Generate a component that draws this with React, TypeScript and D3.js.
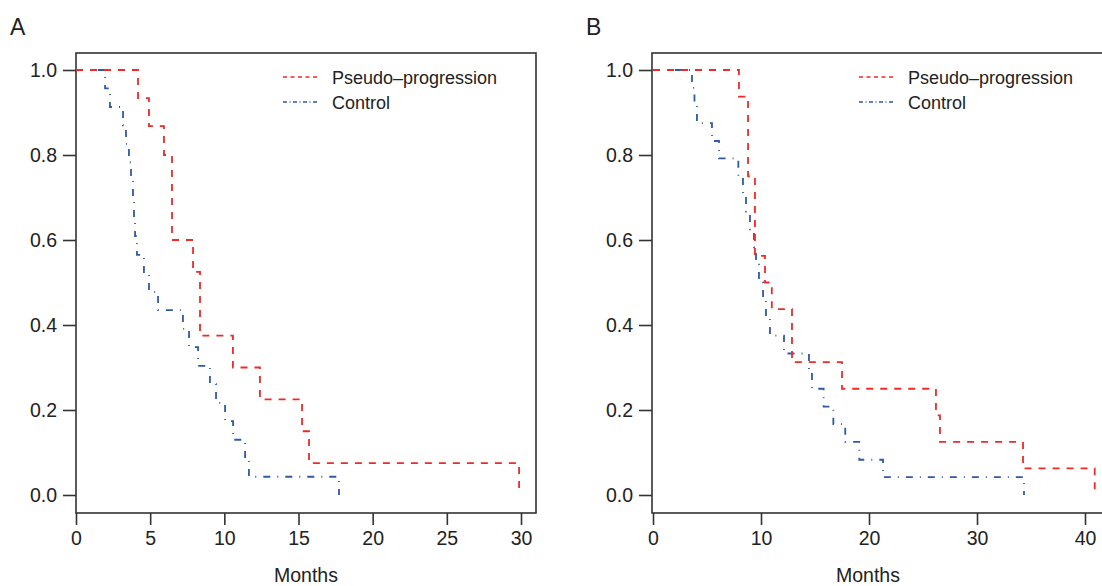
import React, { useEffect, useRef } from 'react'
import * as d3 from 'd3'

// survival curves (time in months, survival after the drop)
const redATimes = [4.18, 4.92, 5.93, 6.47, 7.89, 8.36, 10.58, 12.4, 15.24, 15.71, 29.87]
const redASurv = [0.934, 0.868, 0.8, 0.6, 0.525, 0.375, 0.3, 0.225, 0.15, 0.075, 0.0]

const blueATimes = [1.96, 2.29, 3.17, 3.37, 3.57, 3.71, 3.84, 3.91, 3.98, 4.11, 4.58, 4.92, 5.53, 7.21, 7.62, 8.23, 9.03, 9.44, 10.05, 10.59, 11.4, 11.66, 17.73]
const blueASurv = [0.957, 0.913, 0.87, 0.826, 0.783, 0.739, 0.696, 0.652, 0.609, 0.565, 0.522, 0.478, 0.435, 0.391, 0.348, 0.304, 0.261, 0.217, 0.174, 0.13, 0.087, 0.043, 0]

const redBTimes = [7.96, 8.8, 9.44, 10.37, 11.0, 12.87, 17.5, 26.2, 26.57, 34.26, 40.9]
const redBSurv = [0.9375, 0.75, 0.5625, 0.5, 0.4375, 0.3125, 0.25, 0.1875, 0.125, 0.0625, 0]

const blueBTimes = [3.61, 3.84, 4.07, 5.46, 6.11, 7.9, 8.33, 8.61, 8.98, 9.35, 9.54, 9.81, 10.19, 10.46, 10.83, 12.13, 14.44, 14.72, 15.8, 16.7, 17.8, 19.1, 21.3, 34.35]
const blueBSurv = [0.958, 0.917, 0.875, 0.833, 0.792, 0.75, 0.708, 0.667, 0.625, 0.583, 0.542, 0.5, 0.458, 0.417, 0.375, 0.333, 0.292, 0.25, 0.208, 0.167, 0.125, 0.083, 0.042, 0]

const yTicks = [0, 0.2, 0.4, 0.6, 0.8, 1.0]
const xTicksA = [0, 5, 10, 15, 20, 25, 30]
const xTicksB = [0, 10, 20, 30, 40]
const seriesNames = ['Pseudo\u2013progression', 'Control']

const RED = '#ee2a2a'
const BLUE = '#2f5aa6'
const FONT = '"Liberation Sans", Arial, Helvetica, sans-serif'

type Panel = {
  letter: string
  left: number
  right: number
  x0: number
  xRef: [number, number] // [value, pixel] used to fix the scale
  xTicks: number[]
  red: [number[], number[]]
  blue: [number[], number[]]
  monthsX: number
}

const panels: Panel[] = [
  { letter: 'A', left: 76, right: 536, x0: 76, xRef: [30, 521], xTicks: xTicksA, red: [redATimes, redASurv], blue: [blueATimes, blueASurv], monthsX: 306 },
  { letter: 'B', left: 652, right: 1112, x0: 653, xRef: [40, 1085], xTicks: xTicksB, red: [redBTimes, redBSurv], blue: [blueBTimes, blueBSurv], monthsX: 868 },
]

function App() {
  const ref = useRef<SVGSVGElement>(null)

  useEffect(() => {
    const svg = d3.select(ref.current)
    svg.selectAll('*').remove()
    const top = 53, bottom = 513

    // y: 1.0 at 70px, 0.0 at 495px
    const y = d3.scaleLinear().domain([0, 1]).range([495, 70])

    panels.forEach((p) => {
      const x = d3.scaleLinear().domain([0, p.xRef[0]]).range([p.x0, p.xRef[1]])

      const g = svg.append('g')

      // panel letter
      g.append('text')
        .attr('x', p.left - 66)
        .attr('y', 35)
        .attr('font-family', FONT)
        .attr('font-size', 23)
        .attr('fill', '#222')
        .text(p.letter)

      // box
      g.append('rect')
        .attr('x', p.left)
        .attr('y', top)
        .attr('width', p.right - p.left)
        .attr('height', bottom - top)
        .attr('fill', 'none')
        .attr('stroke', '#333')
        .attr('stroke-width', 1.6)

      // y axis
      const ya = g.append('g')
        .attr('transform', `translate(${p.left},0)`)
        .call(d3.axisLeft(y).tickValues(yTicks).tickFormat(d3.format('.1f')).tickSize(13).tickPadding(6))
      ya.select('.domain').remove()
      ya.selectAll('line').attr('stroke', '#333').attr('stroke-width', 1.6)
      ya.selectAll('text').attr('font-family', FONT).attr('font-size', 19.5).attr('fill', '#222')

      // x axis
      const xa = g.append('g')
        .attr('transform', `translate(0,${bottom})`)
        .call(d3.axisBottom(x).tickValues(p.xTicks).tickFormat(d3.format('d')).tickSize(12).tickPadding(6))
      xa.select('.domain').remove()
      xa.selectAll('line').attr('stroke', '#333').attr('stroke-width', 1.6)
      xa.selectAll('text').attr('font-family', FONT).attr('font-size', 19.5).attr('fill', '#222')

      g.append('text')
        .attr('x', p.monthsX)
        .attr('y', 582)
        .attr('text-anchor', 'middle')
        .attr('font-family', FONT)
        .attr('font-size', 19.5)
        .attr('fill', '#222')
        .text('Months')

      const line = d3.line<[number, number]>()
        .x((d) => x(d[0]))
        .y((d) => y(d[1]))
        .curve(d3.curveStepAfter)

      const pts = (s: [number[], number[]]): [number, number][] => {
        const out: [number, number][] = [[0, 1]]
        s[0].forEach((t, i) => out.push([t, s[1][i]]))
        return out
      }

      g.append('path')
        .attr('d', line(pts(p.blue)))
        .attr('fill', 'none')
        .attr('stroke', BLUE)
        .attr('stroke-width', 1.8)
        .attr('stroke-dasharray', '7,7,1,7')

      g.append('path')
        .attr('d', line(pts(p.red)))
        .attr('fill', 'none')
        .attr('stroke', RED)
        .attr('stroke-width', 1.8)
        .attr('stroke-dasharray', '7,7')

      // legend
      const lx = p.left + 207
      const legend = g.append('g')
      ;[RED, BLUE].forEach((c, i) => {
        const ly = 77 + i * 25
        legend.append('line')
          .attr('x1', lx).attr('x2', lx + 36)
          .attr('y1', ly).attr('y2', ly)
          .attr('stroke', c)
          .attr('stroke-width', 1.6)
          .attr('stroke-dasharray', i === 0 ? '4,3.5' : '4,2.5,1,2.5')
        legend.append('text')
          .attr('x', lx + 49)
          .attr('y', ly + 7)
          .attr('font-family', FONT)
          .attr('font-size', 18)
          .attr('fill', '#222')
          .text(seriesNames[i])
      })
    })
  }, [])

  return (
    <div style={{ position: 'absolute', left: 0, top: 0, width: 1102, height: 586, overflow: 'hidden', background: '#fff' }}>
      <svg ref={ref} width={1102} height={586} style={{ display: 'block' }} />
    </div>
  )
}

export default App
